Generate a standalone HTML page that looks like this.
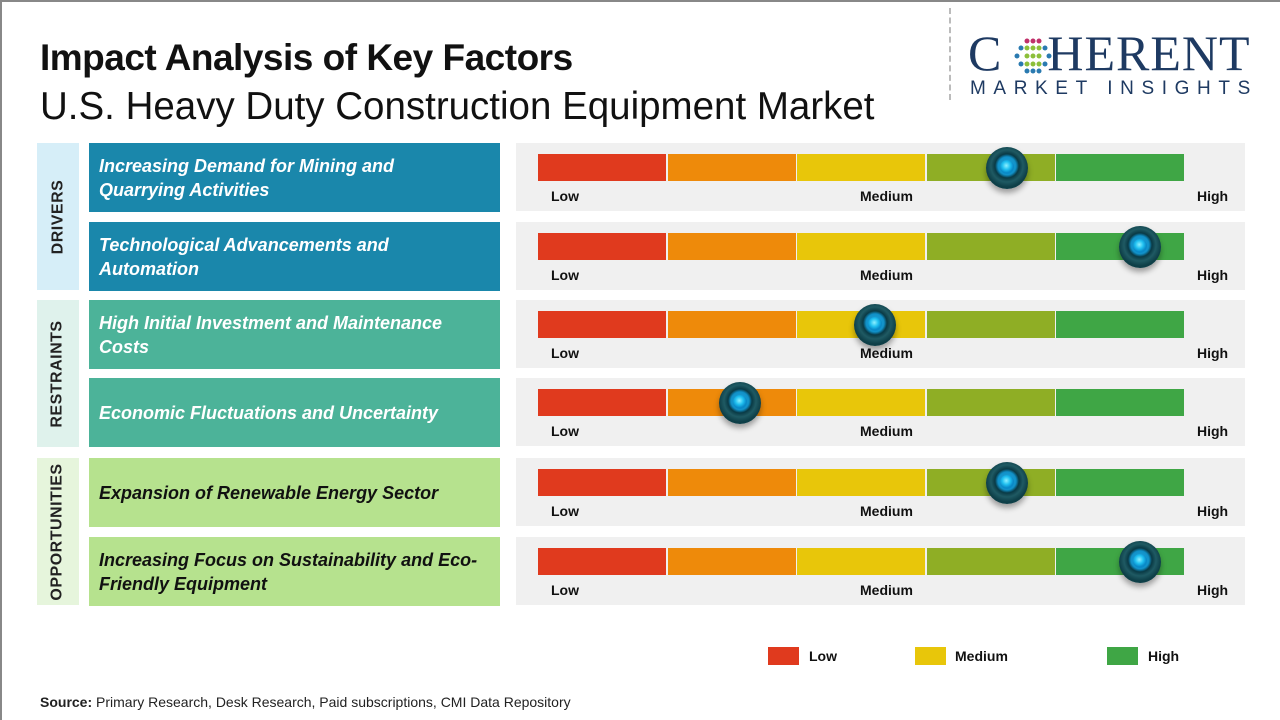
<!DOCTYPE html>
<html><head><meta charset="utf-8"><style>
*{margin:0;padding:0;box-sizing:border-box}
body{width:1280px;height:720px;background:#fff;position:relative;overflow:hidden;font-family:"Liberation Sans",sans-serif}
.a{position:absolute}
.t1{left:40px;top:37px;font-size:37px;font-weight:bold;color:#111;letter-spacing:-0.5px}
.t2{left:40px;top:85px;font-size:38.5px;color:#111}
.cat{position:absolute;left:37px;width:42px;display:flex;align-items:center;justify-content:center}
.cat span{transform:rotate(-90deg);white-space:nowrap;font-weight:bold;font-size:16px;color:#222;letter-spacing:0.5px}
.f{position:absolute;left:89px;width:411px;height:69px;display:flex;align-items:center;padding-left:10px;font-style:italic;font-weight:bold;font-size:18px;line-height:24px;color:#fff}
.p{position:absolute;left:516px;width:729px;height:68px;background:#f0f0f0}
.seg{position:absolute;top:11px;height:27px;width:129px}
.lb{position:absolute;top:45px;font-size:14px;font-weight:bold;color:#111}
.k{position:absolute;width:42px;height:42px;border-radius:50%;background:radial-gradient(circle at 50% 45%,#2aa8d8 0,#1090c8 9px,#0a3a45 12px,#1f5a63 16px,#0e3f48 21px);box-shadow:0 4px 6px rgba(0,0,0,.35)}
.k::after{content:"";position:absolute;left:14px;top:13px;width:14px;height:14px;border-radius:50%;background:radial-gradient(circle at 45% 40%,#8ef0ff 0,#20c0f0 4px,#0a8ac8 7px)}
.lg{position:absolute;top:647px;width:31px;height:18px}
.lt{position:absolute;top:648px;font-size:14px;font-weight:bold;color:#111}
</style></head><body>
<div class="a" style="left:0;top:0;width:1280px;height:720px;border-left:2px solid #888;border-top:2px solid #888"></div>
<div class="a t1">Impact Analysis of Key Factors</div>
<div class="a t2">U.S. Heavy Duty Construction Equipment Market</div>
<div class="a" style="left:949px;top:8px;height:92px;border-left:2px dashed #bbb"></div>
<div class="a" style="left:968px;top:28px;font-family:'Liberation Serif',serif;font-size:50px;color:#1e3a62;letter-spacing:1px;line-height:50px">C<span style="display:inline-block;width:45px"></span>HERENT</div>
<svg class="a" style="left:1013px;top:37px" width="40" height="38">
<g fill="#c0306a"><circle cx="14" cy="4" r="2.5"/><circle cx="20" cy="4" r="2.5"/><circle cx="26" cy="4" r="2.5"/></g>
<g fill="#2a7ab0"><circle cx="8" cy="11" r="2.5"/><circle cx="32" cy="11" r="2.5"/><circle cx="8" cy="27" r="2.5"/><circle cx="32" cy="27" r="2.5"/><circle cx="14" cy="34" r="2.5"/><circle cx="20" cy="34" r="2.5"/><circle cx="26" cy="34" r="2.5"/></g>
<g fill="#8cbf3a"><circle cx="14" cy="11" r="2.5"/><circle cx="20" cy="11" r="2.5"/><circle cx="26" cy="11" r="2.5"/><circle cx="14" cy="19" r="2.5"/><circle cx="20" cy="19" r="2.5"/><circle cx="26" cy="19" r="2.5"/><circle cx="14" cy="27" r="2.5"/><circle cx="20" cy="27" r="2.5"/><circle cx="26" cy="27" r="2.5"/></g>
<g fill="#2a7ab0"><circle cx="4" cy="19" r="2.5"/><circle cx="36" cy="19" r="2.5"/></g>
</svg>
<div class="a" style="left:970px;top:78px;font-size:19px;color:#1e3a62;letter-spacing:7.6px">MARKET INSIGHTS</div>

<div class="cat" style="top:143px;height:147px;background:#d6eef8"><span>DRIVERS</span></div>
<div class="cat" style="top:300px;height:147px;background:#dff2ec"><span>RESTRAINTS</span></div>
<div class="cat" style="top:458px;height:147px;background:#e6f5dc"><span>OPPORTUNITIES</span></div>

<div class="f" style="top:143px;background:#1a87ab">Increasing Demand for Mining and<br>Quarrying Activities</div>
<div class="f" style="top:222px;background:#1a87ab">Technological Advancements and<br>Automation</div>
<div class="f" style="top:300px;background:#4cb399">High Initial Investment and Maintenance<br>Costs</div>
<div class="f" style="top:378px;background:#4cb399">Economic Fluctuations and Uncertainty</div>
<div class="f" style="top:458px;background:#b6e28e;color:#111">Expansion of Renewable Energy Sector</div>
<div class="f" style="top:537px;background:#b6e28e;color:#111">Increasing Focus on Sustainability and Eco-<br>Friendly Equipment</div>

<div id="bars"></div>
<script>
var tops=[143,222,300,378,458,537],kx=[1007,1140,875,740,1007,1140];
var cols=["#e03a1e","#ee8a0a","#e8c60a","#8fae25","#3fa645"];
var h="";
tops.forEach(function(t,i){
 h+='<div class="p" style="top:'+t+'px">';
 for(var j=0;j<5;j++)h+='<div class="seg" style="left:'+(22+j*129.6)+'px;width:128px;background:'+cols[j]+'"></div>';
 h+='<div class="lb" style="left:35px">Low</div><div class="lb" style="left:344px">Medium</div><div class="lb" style="left:681px">High</div></div>';
 h+='<div class="k" style="left:'+(kx[i]-21)+'px;top:'+(t+4)+'px"></div>';
});
document.getElementById("bars").outerHTML=h;
</script>

<div class="lg" style="left:768px;background:#e03a1e"></div><div class="lt" style="left:809px">Low</div>
<div class="lg" style="left:915px;background:#e8c60a"></div><div class="lt" style="left:955px">Medium</div>
<div class="lg" style="left:1107px;background:#3fa645"></div><div class="lt" style="left:1148px">High</div>

<div class="a" style="left:40px;top:694px;font-size:14px;color:#222"><b>Source:</b> Primary Research, Desk Research, Paid subscriptions, CMI Data Repository</div>
</body></html>
